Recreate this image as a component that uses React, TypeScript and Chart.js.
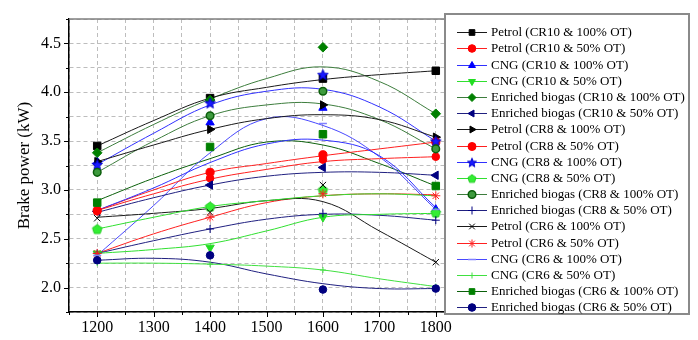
import React, { useEffect, useRef } from 'react';
import { Chart, registerables } from 'chart.js';
import { drawPoint } from 'chart.js/helpers';

Chart.register(...registerables);

// ---------- data ----------
const speedMarks = [1200, 1400, 1600, 1800];
const speedCurve = [1200, 1300, 1400, 1500, 1600, 1700, 1800];
const xTickLabels = ['1200', '1300', '1400', '1500', '1600', '1700', '1800'];
const yTickLabels = ['2.0', '2.5', '3.0', '3.5', '4.0', '4.5'];
const yTitle = 'Brake power (kW)';

const seriesNames = [
  'Petrol (CR10 & 100% OT)',
  'Petrol (CR10 & 50% OT)',
  'CNG (CR10 & 100% OT)',
  'CNG (CR10 & 50% OT)',
  'Enriched biogas (CR10 & 100% OT)',
  'Enriched biogas (CR10 & 50% OT)',
  'Petrol (CR8 & 100% OT)',
  'Petrol (CR8 & 50% OT)',
  'CNG (CR8 & 100% OT)',
  'CNG (CR8 & 50% OT)',
  'Enriched biogas (CR8 & 100% OT)',
  'Enriched biogas (CR8 & 50% OT)',
  'Petrol (CR6 & 100% OT)',
  'Petrol (CR6 & 50% OT)',
  'CNG (CR6 & 100% OT)',
  'CNG (CR6 & 50% OT)',
  'Enriched biogas (CR6 & 100% OT)',
  'Enriched biogas (CR6 & 50% OT)',
];

// measured points (1200, 1400, 1600, 1800 rpm)
const petrolCR10Full = [3.45, 3.94, 4.14, 4.22];
const petrolCR10Half = [2.78, 3.12, 3.31, 3.34];
const cngCR10Full = [3.29, 3.69, 3.84, 2.8];
const cngCR10Half = [2.35, 2.41, 2.72, 2.76];
const biogasCR10Full = [3.38, 3.92, 4.46, 3.78];
const biogasCR10Half = [2.78, 3.05, 3.23, 3.15];
const petrolCR8Full = [3.29, 3.62, 3.87, 3.54];
const petrolCR8Half = [2.79, 3.18, 3.36, 3.49];
const cngCR8Full = [3.26, 3.89, 4.18, 3.5];
const cngCR8Half = [2.6, 2.83, 3.0, 2.77];
const biogasCR8Full = [3.18, 3.76, 4.01, 3.42];
const biogasCR8Half = [2.35, 2.6, 2.76, 2.69];
const petrolCR6Full = [2.71, 2.77, 3.05, 2.26];
const petrolCR6Half = [2.35, 2.72, 2.96, 2.94];
const cngCR6Full = [2.33, 3.43, 3.68, 2.8];
const cngCR6Half = [2.25, 2.24, 2.18, 2.01];
const biogasCR6Full = [2.87, 3.44, 3.57, 3.04];
const biogasCR6Half = [2.28, 2.33, 1.98, 1.99];

// fitted curves (1200 .. 1800 step 100)
const petrolCR10FullFit = [3.45, 3.71, 3.94, 4.05, 4.13, 4.18, 4.22];
const petrolCR10HalfFit = [2.79, 2.96, 3.11, 3.21, 3.29, 3.32, 3.34];
const cngCR10FullFit = [2.79, 3.02, 3.28, 3.47, 3.51, 3.35, 2.82];
const cngCR10HalfFit = [2.35, 2.39, 2.45, 2.58, 2.72, 2.75, 2.76];
const biogasCR10FullFit = [3.38, 3.67, 3.93, 4.14, 4.26, 4.11, 3.78];
const biogasCR10HalfFit = [2.77, 2.92, 3.05, 3.14, 3.18, 3.18, 3.15];
const petrolCR8FullFit = [3.29, 3.46, 3.62, 3.73, 3.77, 3.72, 3.54];
const petrolCR8HalfFit = [2.79, 3.0, 3.18, 3.27, 3.35, 3.42, 3.49];
const cngCR8FullFit = [3.26, 3.58, 3.87, 4.01, 4.03, 3.85, 3.5];
const cngCR8HalfFit = [2.6, 2.72, 2.83, 2.89, 2.94, 2.96, 2.94];
const biogasCR8FullFit = [3.18, 3.5, 3.76, 3.87, 3.88, 3.72, 3.42];
const biogasCR8HalfFit = [2.35, 2.48, 2.6, 2.7, 2.75, 2.74, 2.69];
const petrolCR6FullFit = [2.72, 2.76, 2.81, 2.89, 2.88, 2.58, 2.26];
const petrolCR6HalfFit = [2.35, 2.55, 2.72, 2.87, 2.94, 2.96, 2.95];
const cngCR6FullFit = [2.33, 2.84, 3.38, 3.73, 3.66, 3.34, 2.8];
const cngCR6HalfFit = [2.25, 2.25, 2.24, 2.22, 2.18, 2.09, 2.01];
const biogasCR6FullFit = [2.89, 3.12, 3.32, 3.49, 3.46, 3.27, 3.04];
const biogasCR6HalfFit = [2.28, 2.3, 2.26, 2.14, 2.04, 1.99, 1.99];

const seriesMarks = [
  petrolCR10Full, petrolCR10Half, cngCR10Full, cngCR10Half, biogasCR10Full, biogasCR10Half,
  petrolCR8Full, petrolCR8Half, cngCR8Full, cngCR8Half, biogasCR8Full, biogasCR8Half,
  petrolCR6Full, petrolCR6Half, cngCR6Full, cngCR6Half, biogasCR6Full, biogasCR6Half,
];
const seriesFits = [
  petrolCR10FullFit, petrolCR10HalfFit, cngCR10FullFit, cngCR10HalfFit, biogasCR10FullFit, biogasCR10HalfFit,
  petrolCR8FullFit, petrolCR8HalfFit, cngCR8FullFit, cngCR8HalfFit, biogasCR8FullFit, biogasCR8HalfFit,
  petrolCR6FullFit, petrolCR6HalfFit, cngCR6FullFit, cngCR6HalfFit, biogasCR6FullFit, biogasCR6HalfFit,
];

// ---------- styles ----------
function makeShape(kind: 'star' | 'pentagon', fill: string, stroke: string, scale: number) {
  const c = document.createElement('canvas');
  const s = Math.ceil(13 * scale);
  c.width = s;
  c.height = s;
  const g = c.getContext('2d')!;
  g.beginPath();
  const cx = s / 2, cy = s / 2 + 0.5 * scale;
  if (kind === 'star') {
    for (let k = 0; k < 10; k++) {
      const r = (k % 2 === 0 ? 5.6 : 2.4) * scale;
      const a = -Math.PI / 2 + (k * Math.PI) / 5;
      const px = cx + r * Math.cos(a), py = cy + r * Math.sin(a);
      k === 0 ? g.moveTo(px, py) : g.lineTo(px, py);
    }
  } else {
    for (let k = 0; k < 5; k++) {
      const a = -Math.PI / 2 + (k * 2 * Math.PI) / 5;
      const px = cx + 5 * scale * Math.cos(a), py = cy + 5 * scale * Math.sin(a);
      k === 0 ? g.moveTo(px, py) : g.lineTo(px, py);
    }
  }
  g.closePath();
  g.fillStyle = fill;
  g.fill();
  g.strokeStyle = stroke;
  g.lineWidth = 1;
  g.stroke();
  return c;
}

type St = { line: string; fill: string; border: string; style: any; legendStyle?: any; radius: number; rotation: number; bw: number };

function buildStyles(): St[] {
  const star = makeShape('star', '#1a1aff', '#0000cc', 1);
  const starSmall = makeShape('star', '#1a1aff', '#0000cc', 0.85);
  const pent = makeShape('pentagon', '#33ee33', '#22cc22', 1);
  const pentSmall = makeShape('pentagon', '#33ee33', '#22cc22', 0.85);
  return [
    { line: '#1a1a1a', fill: '#000000', border: '#000000', style: 'rect', radius: 5.3, rotation: 0, bw: 1 },
    { line: '#ff2020', fill: '#ff0000', border: '#ff0000', style: 'circle', radius: 3.8, rotation: 0, bw: 1 },
    { line: '#3030ff', fill: '#0000ff', border: '#0000ff', style: 'triangle', radius: 4.8, rotation: 0, bw: 1 },
    { line: '#30e030', fill: '#22dd22', border: '#22dd22', style: 'triangle', radius: 4.8, rotation: 180, bw: 1 },
    { line: '#3d7d3d', fill: '#008000', border: '#008000', style: 'rectRot', radius: 4.8, rotation: 0, bw: 1 },
    { line: '#202080', fill: '#000080', border: '#000080', style: 'triangle', radius: 4.8, rotation: -90, bw: 1 },
    { line: '#1a1a1a', fill: '#000000', border: '#000000', style: 'triangle', radius: 4.8, rotation: 90, bw: 1 },
    { line: '#ff2020', fill: '#ff0000', border: '#ff0000', style: 'circle', radius: 4.1, rotation: 0, bw: 1 },
    { line: '#3030ff', fill: '#0000ff', border: '#0000ff', style: star, legendStyle: starSmall, radius: 6, rotation: 0, bw: 0 },
    { line: '#30e030', fill: '#33ee33', border: '#33ee33', style: pent, legendStyle: pentSmall, radius: 5, rotation: 0, bw: 0 },
    { line: '#3d7d3d', fill: '#3d9a3d', border: '#0b5e0b', style: 'circle', radius: 3.8, rotation: 0, bw: 1.5 },
    { line: '#202080', fill: '#000080', border: '#000080', style: 'cross', radius: 4, rotation: 0, bw: 1 },
    { line: '#1a1a1a', fill: '#000000', border: '#000000', style: 'crossRot', radius: 4.5, rotation: 0, bw: 1 },
    { line: '#ff2020', fill: '#ff0000', border: '#ff2020', style: 'star', radius: 4.5, rotation: 0, bw: 1 },
    { line: '#4848ff', fill: '#8080ff', border: '#8080ff', style: 'line', radius: 4, rotation: 0, bw: 1.5 },
    { line: '#40e040', fill: '#40e040', border: '#40e040', style: 'cross', radius: 3, rotation: 0, bw: 1 },
    { line: '#0b600b', fill: '#008000', border: '#008000', style: 'rect', radius: 5.3, rotation: 0, bw: 1 },
    { line: '#202080', fill: '#000080', border: '#000080', style: 'circle', radius: 3.8, rotation: 0, bw: 1 },
  ];
}

export default function App() {
  const ref = useRef<HTMLCanvasElement | null>(null);

  useEffect(() => {
    if (!ref.current) return;
    const styles = buildStyles();
    const n = seriesNames.length;
    const datasets: any[] = [];
    seriesNames.forEach((name, i) => {
      const st = styles[i];
      datasets.push({
        type: 'line',
        label: name + ' fit',
        data: speedCurve.map((x, k) => ({ x, y: seriesFits[i][k] })),
        borderColor: st.line,
        borderWidth: 1,
        pointRadius: 0,
        tension: 0.4,
        fill: false,
        order: 100 + i,
      });
      datasets.push({
        type: 'line',
        label: name,
        data: speedMarks.map((x, k) => ({ x, y: seriesMarks[i][k] })),
        showLine: false,
        pointStyle: st.style,
        pointRadius: st.radius,
        pointRotation: st.rotation,
        pointBackgroundColor: st.fill,
        pointBorderColor: st.border,
        pointBorderWidth: st.bw,
        order: n - i,
      });
    });

    const framePlugin = {
      id: 'frameTicks',
      afterDraw(chart: any) {
        const { ctx, chartArea } = chart;
        const xs = chart.scales.x;
        const ys = chart.scales.y;
        ctx.save();
        ctx.strokeStyle = '#808080';
        ctx.lineWidth = 1.5;
        ctx.beginPath();
        ctx.moveTo(chartArea.left, chartArea.top);
        ctx.lineTo(chartArea.right, chartArea.top);
        ctx.lineTo(chartArea.right, chartArea.bottom);
        ctx.stroke();
        ctx.strokeStyle = '#000';
        ctx.lineWidth = 1;
        ctx.beginPath();
        for (let v = ys.min; v <= ys.max + 1e-9; v += 0.25) {
          const p = Math.round(ys.getPixelForValue(v)) + 0.5;
          const major = Math.abs(v * 2 - Math.round(v * 2)) < 1e-6;
          ctx.moveTo(chartArea.left - (major ? 5 : 3), p);
          ctx.lineTo(chartArea.left, p);
        }
        for (let v = xs.min; v <= xs.max + 1e-9; v += 50) {
          const p = Math.round(xs.getPixelForValue(v)) + 0.5;
          const major = v % 100 === 0;
          ctx.moveTo(p, chartArea.bottom);
          ctx.lineTo(p, chartArea.bottom + (major ? 5 : 3));
        }
        ctx.stroke();
        ctx.restore();
      },
    };

    const legendPlugin = {
      id: 'boxLegend',
      afterDraw(chart: any) {
        const ctx = chart.ctx;
        ctx.save();
        const bx = 445, by = 14, bw = 244, bh = 300;
        ctx.fillStyle = '#ffffff';
        ctx.fillRect(bx, by, bw, bh);
        ctx.strokeStyle = '#8a8a8a';
        ctx.lineWidth = 2;
        ctx.strokeRect(bx, by, bw, bh);
        const step = 16.18;
        seriesNames.forEach((name, i) => {
          const st = styles[i];
          const y = Math.round(32.3 + i * step) + 0.5;
          ctx.strokeStyle = st.line;
          ctx.lineWidth = 1;
          ctx.beginPath();
          ctx.moveTo(457, y);
          ctx.lineTo(487, y);
          ctx.stroke();
          ctx.fillStyle = st.fill;
          ctx.strokeStyle = st.border;
          ctx.lineWidth = st.bw;
          drawPoint(ctx, { pointStyle: st.legendStyle || st.style, rotation: st.rotation, radius: Math.min(st.radius, 4), borderWidth: st.bw }, 472, y);
          ctx.fillStyle = '#000';
          ctx.font = '13px "Liberation Serif"';
          ctx.textBaseline = 'middle';
          ctx.textAlign = 'left';
          ctx.fillText(name, 491, y + 0.5);
        });
        ctx.restore();
      },
    };

    const chart = new Chart(ref.current, {
      type: 'line',
      data: { datasets },
      plugins: [framePlugin, legendPlugin],
      options: {
        animation: false,
        responsive: false,
        events: [],
        layout: { padding: { left: 0, top: 19, right: 234, bottom: 0 } },
        plugins: { legend: { display: false }, tooltip: { enabled: false } },
        scales: {
          x: {
            type: 'linear',
            min: 1150,
            max: 1850,
            afterFit: (s: any) => { s.height = 28; },
            ticks: {
              stepSize: 50,
              autoSkip: false,
              maxRotation: 0,
              padding: 6,
              color: '#000',
              font: { family: '"Liberation Serif"', size: 16 },
              callback: (v: any) => {
                const t = String(v);
                return xTickLabels.includes(t) ? t : '';
              },
            },
            grid: { color: '#bdbdbd', lineWidth: 1, drawTicks: false },
            border: { color: '#000', width: 1.5, dash: [4, 3] },
          },
          y: {
            type: 'linear',
            min: 1.75,
            max: 4.75,
            afterFit: (s: any) => { s.width = 69; },
            ticks: {
              stepSize: 0.25,
              autoSkip: false,
              padding: 8,
              color: '#000',
              font: { family: '"Liberation Serif"', size: 16 },
              callback: (v: any) => {
                const t = Number(v).toFixed(1);
                return yTickLabels.includes(t) && Math.abs(Number(v) - Number(t)) < 1e-6 ? t : '';
              },
            },
            grid: { color: '#bdbdbd', lineWidth: 1, drawTicks: false },
            border: { color: '#000', width: 1.5, dash: [4, 3] },
            title: {
              display: true,
              text: yTitle,
              color: '#000',
              font: { family: '"Liberation Serif"', size: 17 },
              padding: { top: 14, bottom: 0 },
            },
          },
        },
      },
    });
    return () => chart.destroy();
  }, []);

  return (
    <div style={{ position: 'fixed', left: 0, top: 0, width: 698, height: 340, background: '#fff' }}>
      <canvas ref={ref} width={698} height={340} style={{ width: 698, height: 340 }} />
    </div>
  );
}
